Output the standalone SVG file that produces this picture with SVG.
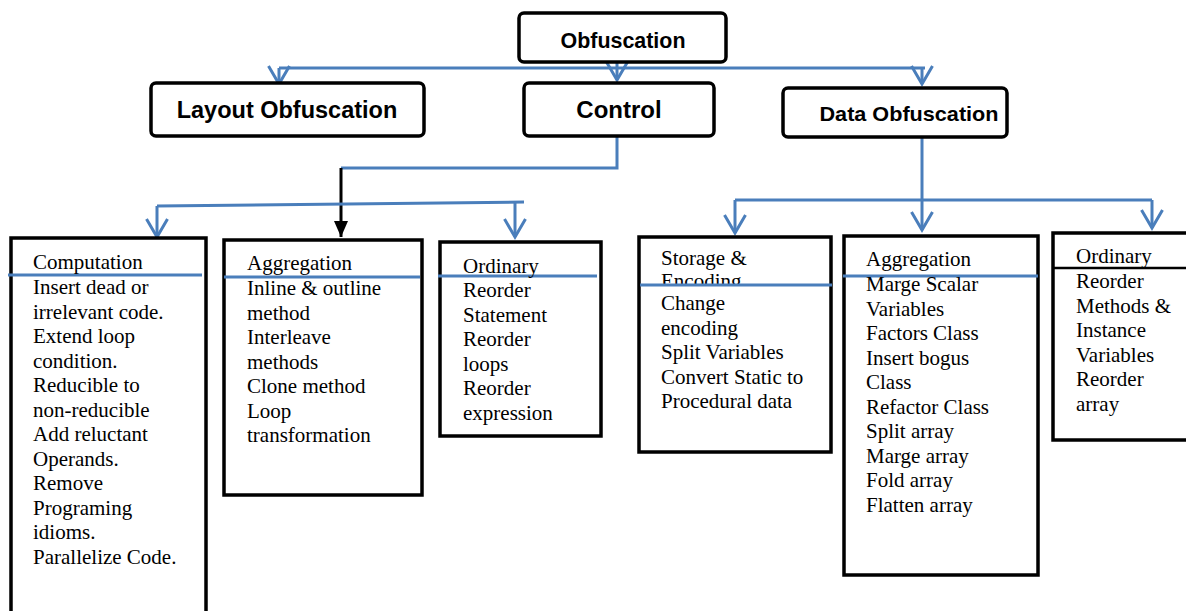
<svg xmlns="http://www.w3.org/2000/svg" width="1186" height="611" viewBox="0 0 1186 611">
  <style>
    .hbox { fill: #ffffff; stroke: #000000; stroke-width: 3.5; }
    .box { fill: #ffffff; stroke: #000000; stroke-width: 3.5; }
    .head { font-family: "Liberation Sans", Arial, sans-serif; font-weight: bold; fill: #000000; text-anchor: middle; }
    .t { font-family: "Liberation Serif", "Times New Roman", serif; font-size: 21px; fill: #000000; }
    .sep { stroke: #4a7ebb; stroke-width: 3; fill: none; }
    .link { stroke: #4a7ebb; stroke-width: 3; fill: none; }
    .dark { stroke: #000000; stroke-width: 3; fill: none; }
  </style>
  <defs>
    <marker id="vhead" markerUnits="userSpaceOnUse" viewBox="-22 -14 26 28" markerWidth="26" markerHeight="28" refX="0" refY="0" orient="auto" overflow="visible">
      <path d="M -18 -10.5 L 0 0 L -18 10.5" fill="none" stroke="#4a7ebb" stroke-width="3" stroke-linejoin="miter"/>
    </marker>
    <marker id="solid" markerUnits="userSpaceOnUse" viewBox="-18 -9 20 18" markerWidth="20" markerHeight="18" refX="0" refY="0" orient="auto" overflow="visible">
      <path d="M -16 -7 L 0 0 L -16 7 Z" fill="#000000"/>
    </marker>
    <clipPath id="encClip">
      <rect x="640" y="240" width="190" height="44"/>
    </clipPath>
  </defs>

  <rect x="0" y="0" width="1186" height="611" fill="#ffffff"/>

  <!-- connectors -->
  <g id="connectors">
    <!-- root to first level -->
    <line class="link" x1="279" y1="68" x2="925" y2="68"/>
    <line class="link" x1="279" y1="68" x2="279" y2="84" marker-end="url(#vhead)"/>
    <line class="link" x1="617" y1="62" x2="617" y2="80" marker-end="url(#vhead)"/>
    <line class="link" x1="922" y1="68" x2="922" y2="84" marker-end="url(#vhead)"/>
    <!-- control branches -->
    <polyline class="link" points="617,137 617,168 341,168"/>
    <line class="dark" x1="341" y1="168" x2="341" y2="237" marker-end="url(#solid)"/>
    <line class="link" x1="157" y1="206" x2="524" y2="202"/>
    <line class="link" x1="157" y1="206" x2="157" y2="237" marker-end="url(#vhead)"/>
    <line class="link" x1="515" y1="203" x2="515" y2="237" marker-end="url(#vhead)"/>
    <!-- data branches -->
    <line class="link" x1="922" y1="137" x2="922" y2="230" marker-end="url(#vhead)"/>
    <line class="link" x1="735" y1="200" x2="1152" y2="200"/>
    <line class="link" x1="735" y1="200" x2="735" y2="233" marker-end="url(#vhead)"/>
    <line class="link" x1="1152" y1="200" x2="1152" y2="228" marker-end="url(#vhead)"/>
  </g>

  <!-- top level -->
  <g id="obfuscation">
    <rect class="hbox" x="519" y="13" width="207" height="49" rx="5"/>
    <text class="head" x="623" y="48" font-size="22" textLength="125" lengthAdjust="spacingAndGlyphs">Obfuscation</text>
  </g>

  <g id="layout-obfuscation">
    <rect class="hbox" x="151" y="83" width="273" height="53" rx="5"/>
    <text class="head" x="287" y="118" font-size="23.5">Layout Obfuscation</text>
  </g>

  <g id="control">
    <rect class="hbox" x="524" y="83" width="190" height="53" rx="5"/>
    <text class="head" x="619" y="118" font-size="24">Control</text>
  </g>

  <g id="data-obfuscation">
    <rect class="hbox" x="783" y="88" width="224" height="49" rx="5"/>
    <text class="head" x="909" y="121" font-size="20.5" textLength="179" lengthAdjust="spacingAndGlyphs">Data Obfuscation</text>
  </g>

  <!-- control techniques -->
  <g id="computation">
    <rect class="box" x="11" y="238" width="195" height="385"/>
    <line class="sep" x1="8" y1="275" x2="202" y2="275"/>
    <text class="t" x="33">
      <tspan x="33" y="269">Computation</tspan>
      <tspan x="33" y="294">Insert dead or</tspan>
      <tspan x="33" y="318.5">irrelevant code.</tspan>
      <tspan x="33" y="343">Extend loop</tspan>
      <tspan x="33" y="367.5">condition.</tspan>
      <tspan x="33" y="392">Reducible to</tspan>
      <tspan x="33" y="416.5">non-reducible</tspan>
      <tspan x="33" y="441">Add reluctant</tspan>
      <tspan x="33" y="465.5">Operands.</tspan>
      <tspan x="33" y="490">Remove</tspan>
      <tspan x="33" y="514.5">Programing</tspan>
      <tspan x="33" y="539">idioms.</tspan>
      <tspan x="33" y="563.5">Parallelize Code.</tspan>
    </text>
  </g>

  <g id="control-aggregation">
    <rect class="box" x="224" y="240" width="198" height="255"/>
    <line class="sep" x1="224" y1="277" x2="420" y2="277"/>
    <text class="t">
      <tspan x="247" y="270">Aggregation</tspan>
      <tspan x="247" y="295">Inline &amp; outline</tspan>
      <tspan x="247" y="319.5">method</tspan>
      <tspan x="247" y="344">Interleave</tspan>
      <tspan x="247" y="368.5">methods</tspan>
      <tspan x="247" y="393">Clone method</tspan>
      <tspan x="247" y="417.5">Loop</tspan>
      <tspan x="247" y="442">transformation</tspan>
    </text>
  </g>

  <g id="control-ordinary">
    <rect class="box" x="440" y="242" width="161" height="194"/>
    <line class="sep" x1="438" y1="276" x2="597" y2="276"/>
    <text class="t">
      <tspan x="463" y="273">Ordinary</tspan>
      <tspan x="463" y="297">Reorder</tspan>
      <tspan x="463" y="321.5">Statement</tspan>
      <tspan x="463" y="346">Reorder</tspan>
      <tspan x="463" y="370.5">loops</tspan>
      <tspan x="463" y="395">Reorder</tspan>
      <tspan x="463" y="419.5">expression</tspan>
    </text>
  </g>

  <!-- data techniques -->
  <g id="storage-encoding">
    <rect class="box" x="639" y="237" width="192" height="215"/>
    <text class="t" x="661" y="265" font-size="16.5">Storage &amp;</text>
    <text class="t" x="661" y="288" font-size="16.5" clip-path="url(#encClip)">Encoding</text>
    <line class="sep" x1="640" y1="285" x2="832" y2="285"/>
    <text class="t">
      <tspan x="661" y="310">Change</tspan>
      <tspan x="661" y="334.5">encoding</tspan>
      <tspan x="661" y="359">Split Variables</tspan>
      <tspan x="661" y="383.5">Convert Static to</tspan>
      <tspan x="661" y="408">Procedural data</tspan>
    </text>
  </g>

  <g id="data-aggregation">
    <rect class="box" x="844" y="236" width="194" height="339"/>
    <line class="sep" x1="843" y1="276" x2="1038" y2="276"/>
    <text class="t">
      <tspan x="866" y="266">Aggregation</tspan>
      <tspan x="866" y="291">Marge Scalar</tspan>
      <tspan x="866" y="315.5">Variables</tspan>
      <tspan x="866" y="340">Factors Class</tspan>
      <tspan x="866" y="364.5">Insert bogus</tspan>
      <tspan x="866" y="389">Class</tspan>
      <tspan x="866" y="413.5">Refactor Class</tspan>
      <tspan x="866" y="438">Split array</tspan>
      <tspan x="866" y="462.5">Marge array</tspan>
      <tspan x="866" y="487">Fold array</tspan>
      <tspan x="866" y="511.5">Flatten array</tspan>
    </text>
  </g>

  <g id="data-ordinary">
    <rect class="box" x="1053" y="233" width="150" height="207"/>
    <line x1="1053" y1="268" x2="1190" y2="268" stroke="#000000" stroke-width="2.5"/>
    <text class="t">
      <tspan x="1076" y="263">Ordinary</tspan>
      <tspan x="1076" y="288">Reorder</tspan>
      <tspan x="1076" y="312.5">Methods &amp;</tspan>
      <tspan x="1076" y="337">Instance</tspan>
      <tspan x="1076" y="361.5">Variables</tspan>
      <tspan x="1076" y="386">Reorder</tspan>
      <tspan x="1076" y="410.5">array</tspan>
    </text>
  </g>
</svg>
